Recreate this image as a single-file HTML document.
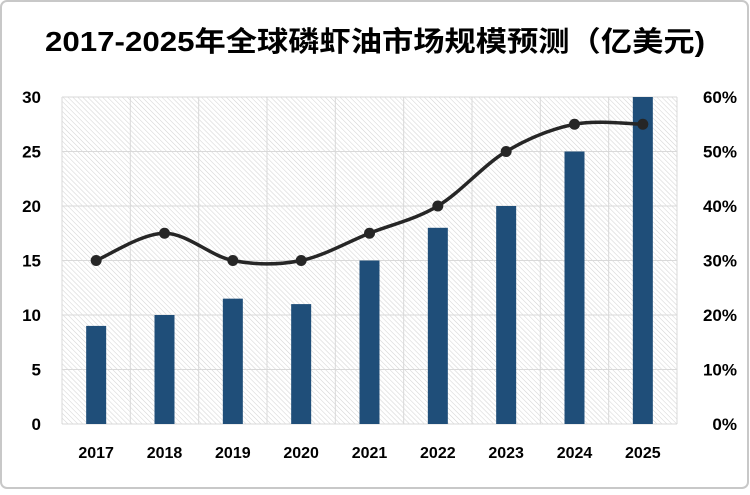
<!DOCTYPE html>
<html><head><meta charset="utf-8"><style>
body{margin:0;background:#fff}
svg text{font-family:"Liberation Sans","Noto Sans CJK SC",sans-serif;font-weight:bold;fill:#000}
</style></head><body>
<svg width="750" height="490">
<defs><pattern id="h" width="3.5" height="3.5" patternUnits="userSpaceOnUse" patternTransform="rotate(-45)"><line x1="0" y1="0" x2="0" y2="3.5" stroke="#d4d4d4" stroke-width="1.1"/></pattern></defs>
<rect x="1" y="1" width="747" height="487" rx="6" fill="#fff" stroke="#c8c8c8" stroke-width="2"/>
<text x="45" y="51" font-size="28" textLength="660" lengthAdjust="spacingAndGlyphs">2017-2025年全球磷虾油市场规模预测（亿美元)</text>
<rect x="62" y="97" width="615" height="327" fill="url(#h)"/>
<g id="grid"></g><g id="bars"></g><g id="line"></g><g id="labels"></g>
</svg>
<script>
const categories=["2017","2018","2019","2020","2021","2022","2023","2024","2025"];
const marketSize=[9,10,11.5,11,15,18,20,25,30];
const growthRate=[30,35,30,30,35,40,50,55,55];
const leftTicks=[0,5,10,15,20,25,30];
const rightTicks=["0%","10%","20%","30%","40%","50%","60%"];
const L=62,R=677,T=97,B=424,cw=(R-L)/categories.length;
const ns="http://www.w3.org/2000/svg";
const yL=v=>B-v/30*(B-T), yR=v=>B-v/60*(B-T), xc=i=>L+cw*(i+0.5);
function mk(t,a,p){const e=document.createElementNS(ns,t);for(const k in a)e.setAttribute(k,a[k]);p.appendChild(e);return e;}
const g=document.getElementById('grid'),b=document.getElementById('bars'),ln=document.getElementById('line'),lb=document.getElementById('labels');
leftTicks.forEach((v,i)=>{const y=yL(v);
const l=mk('line',{x1:L,x2:R,y1:y,y2:y,stroke:'#d9d9d9'},g);


const t=mk('text',{x:41,y:y+6,'text-anchor':'end','font-size':17},lb);t.textContent=v;


const r=mk('text',{x:737,y:y+6,'text-anchor':'end','font-size':17},lb);r.textContent=rightTicks[i];

});
for(let i=0;i<=categories.length;i++){const x=L+cw*i;
const l=mk('line',{x1:x,x2:x,y1:T,y2:B,stroke:'#d9d9d9'},g);

}
categories.forEach((c,i)=>{
const r=mk('rect',{x:xc(i)-10,y:yL(marketSize[i]),width:20,height:B-yL(marketSize[i]),fill:'#1f4e79'},b);


const t=mk('text',{x:xc(i),y:458,'text-anchor':'middle','font-size':16},lb);t.textContent=c;

});
const pts=growthRate.map((v,i)=>[xc(i),yR(v)]);
let d='M'+pts[0];
for(let i=0;i<pts.length-1;i++){const p0=pts[i-1]||pts[i],p1=pts[i],p2=pts[i+1],p3=pts[i+2]||p2;
const c1=[p1[0]+(p2[0]-p0[0])/6,p1[1]+(p2[1]-p0[1])/6],c2=[p2[0]-(p3[0]-p1[0])/6,p2[1]-(p3[1]-p1[1])/6];
d+=' C'+c1+' '+c2+' '+p2;}
const path=mk('path',{d:d,fill:'none',stroke:'#262626','stroke-width':3.5},ln);


pts.forEach((p,i)=>{const c=mk('circle',{cx:p[0],cy:p[1],r:5.5,fill:'#262626'},ln);

});
</script>
</body></html>
